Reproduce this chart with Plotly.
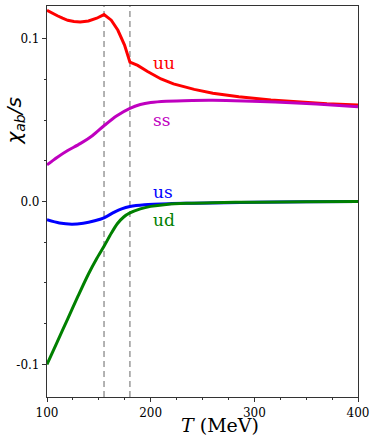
import plotly.graph_objects as go

# Data
T_uu = [100, 105, 110, 115, 120, 126, 132, 140, 148, 155, 162, 168.4, 174.8, 180, 187.5, 197, 210,
        222, 242, 260, 285, 316, 348, 370, 400]
uu   = [0.1174, 0.1155, 0.1140, 0.1125, 0.1112, 0.1105, 0.1102, 0.1108, 0.1125, 0.1147, 0.1113,
        0.1051, 0.0960, 0.0855, 0.0835, 0.0798, 0.0752, 0.0722, 0.0688, 0.0665, 0.0643, 0.0623,
        0.0608, 0.0600, 0.0592]

T_ss = [100, 110, 120, 132, 144, 155, 167, 180, 190, 200, 215, 240, 260, 290, 320, 360, 400]
ss   = [0.0225, 0.0272, 0.0313, 0.0355, 0.0405, 0.0465, 0.0525, 0.0572, 0.0595, 0.0607, 0.0615,
        0.0620, 0.0621, 0.0617, 0.0610, 0.0598, 0.0582]

T_us = [100, 112, 124, 135, 146, 155, 165, 172, 180, 194, 220, 242, 300, 350, 400]
us   = [-0.0112, -0.0132, -0.0139, -0.0133, -0.0118, -0.0100, -0.0065, -0.0045, -0.0031, -0.0020,
        -0.0013, -0.0010, -0.0005, -0.0002, 0.0]

T_ud = [100, 110, 120, 130, 140, 148, 155, 162, 168, 174, 180, 190, 200, 215, 235, 260, 300,
        350, 400]
ud   = [-0.1000, -0.0860, -0.0720, -0.0580, -0.0445, -0.0350, -0.0275, -0.0195, -0.0135, -0.0095,
        -0.0070, -0.0045, -0.0030, -0.0018, -0.0011, -0.0007, -0.0004, -0.0002, 0.0]

T_lines = [155, 180]

labels = ["uu", "ss", "us", "ud"]
label_x = [200, 200, 200, 200]
label_y = [0.0848, 0.0500, 0.0061, -0.0112]
colors = ["#ff0000", "#bf00bf", "#0000ff", "#008000"]

x_ticks = [100, 200, 300, 400]
y_ticks = [-0.1, 0.0, 0.1]
y_ticktext = ["-0.1", "0.0", "0.1"]

fig = go.Figure()

for tl in T_lines:
    fig.add_trace(go.Scatter(x=[tl, tl], y=[-0.12, 0.12], mode="lines",
                             line=dict(color="#808080", width=1.2, dash="6px,4px"),
                             showlegend=False, hoverinfo="skip"))

series = [(T_uu, uu, "linear"), (T_ss, ss, "spline"), (T_us, us, "spline"), (T_ud, ud, "spline")]
for (tx, vy, shp), c in zip(series, colors):
    line = dict(color=c, width=3, shape=shp)
    if shp == "spline":
        line["smoothing"] = 0.8
    fig.add_trace(go.Scatter(x=tx, y=vy, mode="lines", line=line, showlegend=False))

for lab, lx, ly, c in zip(labels, label_x, label_y, colors):
    fig.add_annotation(x=lx, y=ly, text=lab, showarrow=False, xanchor="left", yanchor="middle",
                       font=dict(family="DejaVu Serif", size=17, color=c))

fig.add_annotation(xref="paper", yref="paper", x=-0.104, y=0.706, text="<i>χ<sub>ab</sub>/s</i>",
                   showarrow=False, textangle=-90, xanchor="center", yanchor="middle",
                   font=dict(family="DejaVu Sans", size=20, color="black"))
fig.add_annotation(xref="paper", yref="paper", x=0.555, y=-0.072, text="<i>T</i> (MeV)",
                   showarrow=False, xanchor="center", yanchor="middle",
                   font=dict(family="DejaVu Serif", size=19, color="black"))

axis_common = dict(showgrid=False, zeroline=False, showline=True, linecolor="#333333", linewidth=1.2,
                   mirror=True, ticks="outside", ticklen=4, tickcolor="#333333",
                   tickfont=dict(family="DejaVu Serif", size=12, color="black"))

fig.update_xaxes(range=[100, 400], tickvals=x_ticks,
                 minor=dict(dtick=25, tick0=100, ticks="outside", ticklen=2, tickcolor="#333333"),
                 **axis_common)
fig.update_yaxes(range=[-0.12, 0.12], tickvals=y_ticks, ticktext=y_ticktext,
                 minor=dict(dtick=0.025, tick0=0, ticks="outside", ticklen=2, tickcolor="#333333"),
                 **axis_common)

fig.update_layout(width=374, height=436, margin=dict(l=47, r=13, t=5, b=39),
                  paper_bgcolor="white", plot_bgcolor="white", showlegend=False)

fig.write_html("out.html", config={"displayModeBar": False},
               post_script="document.body.style.margin='0';document.body.style.overflow='hidden';")
